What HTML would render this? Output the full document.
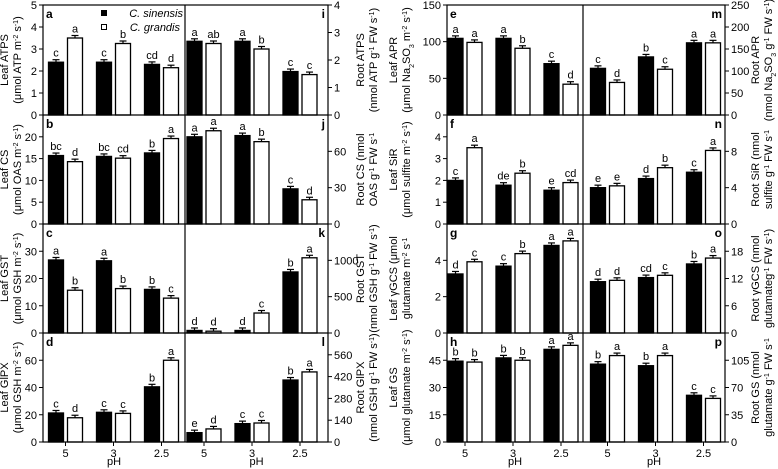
<!DOCTYPE html>
<html><head><meta charset="utf-8"><style>
html,body{margin:0;padding:0;background:#fff;}
svg{display:block;font-family:"Liberation Sans",Arial,sans-serif;}
</style></head><body>
<svg id="fig" width="778" height="469" viewBox="0 0 778 469" xmlns="http://www.w3.org/2000/svg"></svg>
<script>
const categories = ["5","3","2.5"];
// panel values: sinensis (black), grandis (white)
const aS=[2.4,2.4,2.3], aG=[3.5,3.25,2.15], aLS=["c","c","cd"], aLG=["a","b","d"];
const bS=[15.7,15.5,16.3], bG=[14.3,15.1,19.6], bLS=["bc","bc","b"], bLG=["d","cd","a"];
const cS=[26.8,26.5,16.0], cG=[15.7,16.3,12.8], cLS=["a","a","b"], cLG=["b","b","c"];
const dS=[21.3,21.8,40.5], dG=[17.8,21.0,60.0], dLS=["c","c","b"], dLG=["d","c","a"];
const iS=[2.68,2.68,1.58], iG=[2.6,2.4,1.47], iLS=["a","a","c"], iLG=["ab","b","c"];
const jS=[72,73,29], jG=[77,68,20], jLS=["a","a","c"], jLG=["a","b","d"];
const kS=[35,35,840], kG=[25,275,1035], kLS=["d","d","b"], kLG=["d","c","a"];
const lS=[60,118,398], lG=[84,122,450], lLS=["e","c","b"], lLG=["d","c","a"];
const eS=[104.5,104.5,70], eG=[99,91,42], eLS=["a","a","c"], eLG=["a","b","d"];
const fS=[2.0,1.78,1.55], fG=[3.5,2.33,1.9], fLS=["c","de","e"], fLG=["a","b","cd"];
const gS=[3.25,3.68,4.82], gG=[3.92,4.37,5.07], gLS=["d","c","a"], gLG=["c","b","a"];
const hS=[44.5,46.3,51], hG=[44,45,53.2], hLS=["b","b","a"], hLG=["b","b","a"];
const mS=[106,132,164], mG=[74,104,164], mLS=["c","b","a"], mLG=["d","c","a"];
const nS=[4.0,5.0,5.7], nG=[4.2,6.2,8.1], nLS=["e","d","c"], nLG=["e","b","a"];
const oS=[11.3,12.2,15.2], oG=[11.6,12.7,16.5], oLS=["d","cd","b"], oLG=["d","c","a"];
const pS=[100,98,60], pG=[111,111,56], pLS=["b","b","c"], pLG=["a","a","c"];
// tick labels
const ticksA=[0,1,2,3,4,5], ticksB=[0,5,10,15,20], ticksC=[0,10,20,30], ticksD=[0,20,40,60];
const ticksI=[0,1,2,3,4], ticksJ=[0,30,60], ticksK=[0,500,1000], ticksL=[0,140,280,420,560];
const ticksE=[0,50,100,150], ticksF=[0,1,2,3,4], ticksG=[0,2,4], ticksH=[0,15,30,45];
const ticksM=[0,50,100,150,200,250], ticksN=[0,4,8], ticksO=[0,6,12,18], ticksP=[0,35,70,105];

const NS="http://www.w3.org/2000/svg";
const svg=document.getElementById('fig');
function mk(tag,attrs,parent){const e=document.createElementNS(NS,tag);for(const k in attrs)e.setAttribute(k,attrs[k]);(parent||svg).appendChild(e);return e;}

function title(x,y,lines,parent){
  const t=mk('text',{x:0,y:0,'font-size':11,'text-anchor':'middle',transform:`translate(${x},${y}) rotate(-90)`},parent);
  
  
  lines.forEach((segs,li)=>{
    let first=true;
    segs.forEach(s=>{
      const ts=mk('tspan',{},t);
      if(first){ts.setAttribute('x',0);ts.setAttribute('dy',li===0?0:13);first=false;}
      if(s[1]==='sup'){ts.setAttribute('font-size',7);ts.setAttribute('baseline-shift','super');}
      if(s[1]==='sub'){ts.setAttribute('font-size',7);ts.setAttribute('baseline-shift','sub');}
      ts.textContent=s[0];
    });
  });
}
const P=(t)=>[t,''], SUP=(t)=>[t,'sup'], SUB=(t)=>[t,'sub'];

function panel(cfg){
  const g=mk('g',{});
  
  
  const {x0,x1,y0,y1,max,side,off}=cfg;
  const ys=v=>y1-(v/max)*(y1-y0);
  const xc=i=>x0+off+48*i;
  cfg.ticks.forEach(tv=>{
    const y=ys(tv);
    if(side==='left'){
      mk('line',{x1:x0-4,x2:x0,y1:y,y2:y,stroke:'#000','stroke-width':1},g);
      const tx=mk('text',{x:x0-6,y:y+4,'font-size':11,'text-anchor':'end'},g);
      
      
      tx.textContent=tv;
    } else {
      mk('line',{x1:x1,x2:x1+4,y1:y,y2:y,stroke:'#000','stroke-width':1},g);
      const tx=mk('text',{x:x1+6,y:y+4,'font-size':11,'text-anchor':'start'},g);
      
      
      tx.textContent=tv;
    }
  });
  categories.forEach((c,i)=>{
    [[cfg.s,cfg.ls,'#000',-1],[cfg.gr,cfg.lg,'#fff',1]].forEach(([vals,lets,fill,dir])=>{
      const v=vals[i];
      const bx=dir<0?xc(i)-17:xc(i)+2;
      const top=ys(v);
      const r=mk('rect',{x:bx,y:top,width:15,height:y1-top,fill:fill,stroke:'#000','stroke-width':1.3},g);
      
      
      const eh=2.5;
      mk('line',{x1:bx+7.5,x2:bx+7.5,y1:top,y2:top-eh,stroke:'#000','stroke-width':1.2},g);
      mk('line',{x1:bx+4,x2:bx+11,y1:top-eh,y2:top-eh,stroke:'#000','stroke-width':1.2},g);
      const lt=mk('text',{x:bx+7.5,y:top-eh-3,'font-size':11,'text-anchor':'middle'},g);
      
      
      lt.textContent=lets[i];
    });
    if(cfg.bottom){
      mk('line',{x1:xc(i),x2:xc(i),y1:y1,y2:y1+4,stroke:'#000','stroke-width':1},g);
      const xl=mk('text',{x:xc(i),y:y1+15,'font-size':11,'text-anchor':'middle'},g);
      
      
      xl.textContent=c;
    }
  });
  const pl=mk('text',{x:side==='left'?x0+3:x1-3,y:y0+13,'font-size':12,'font-weight':'bold','text-anchor':side==='left'?'start':'end'},g);
  
  
  pl.textContent=cfg.id;
}

const L1=43,M1=185,R1=328,L2=447,M2=583,R2=725;
const rows=[5,115,224,333,442];
const cfgs=[
 {id:'a',x0:L1,x1:M1,y0:rows[0],y1:rows[1],max:5,side:'left',off:22.5,s:aS,gr:aG,ls:aLS,lg:aLG,ticks:ticksA},
 {id:'b',x0:L1,x1:M1,y0:rows[1],y1:rows[2],max:25,side:'left',off:22.5,s:bS,gr:bG,ls:bLS,lg:bLG,ticks:ticksB},
 {id:'c',x0:L1,x1:M1,y0:rows[2],y1:rows[3],max:40,side:'left',off:22.5,s:cS,gr:cG,ls:cLS,lg:cLG,ticks:ticksC},
 {id:'d',x0:L1,x1:M1,y0:rows[3],y1:rows[4],max:80,side:'left',off:22.5,s:dS,gr:dG,ls:dLS,lg:dLG,ticks:ticksD,bottom:true},
 {id:'i',x0:M1,x1:R1,y0:rows[0],y1:rows[1],max:4,side:'right',off:19,s:iS,gr:iG,ls:iLS,lg:iLG,ticks:ticksI},
 {id:'j',x0:M1,x1:R1,y0:rows[1],y1:rows[2],max:90,side:'right',off:19,s:jS,gr:jG,ls:jLS,lg:jLG,ticks:ticksJ},
 {id:'k',x0:M1,x1:R1,y0:rows[2],y1:rows[3],max:1500,side:'right',off:19,s:kS,gr:kG,ls:kLS,lg:kLG,ticks:ticksK},
 {id:'l',x0:M1,x1:R1,y0:rows[3],y1:rows[4],max:700,side:'right',off:19,s:lS,gr:lG,ls:lLS,lg:lLG,ticks:ticksL,bottom:true},
 {id:'e',x0:L2,x1:M2,y0:rows[0],y1:rows[1],max:150,side:'left',off:18,s:eS,gr:eG,ls:eLS,lg:eLG,ticks:ticksE},
 {id:'f',x0:L2,x1:M2,y0:rows[1],y1:rows[2],max:5,side:'left',off:18,s:fS,gr:fG,ls:fLS,lg:fLG,ticks:ticksF},
 {id:'g',x0:L2,x1:M2,y0:rows[2],y1:rows[3],max:6,side:'left',off:18,s:gS,gr:gG,ls:gLS,lg:gLG,ticks:ticksG},
 {id:'h',x0:L2,x1:M2,y0:rows[3],y1:rows[4],max:60,side:'left',off:18,s:hS,gr:hG,ls:hLS,lg:hLG,ticks:ticksH,bottom:true},
 {id:'m',x0:M2,x1:R2,y0:rows[0],y1:rows[1],max:250,side:'right',off:24.5,s:mS,gr:mG,ls:mLS,lg:mLG,ticks:ticksM},
 {id:'n',x0:M2,x1:R2,y0:rows[1],y1:rows[2],max:12,side:'right',off:24.5,s:nS,gr:nG,ls:nLS,lg:nLG,ticks:ticksN},
 {id:'o',x0:M2,x1:R2,y0:rows[2],y1:rows[3],max:24,side:'right',off:24.5,s:oS,gr:oG,ls:oLS,lg:oLG,ticks:ticksO},
 {id:'p',x0:M2,x1:R2,y0:rows[3],y1:rows[4],max:140,side:'right',off:24.5,s:pS,gr:pG,ls:pLS,lg:pLG,ticks:ticksP,bottom:true}
];
cfgs.forEach(panel);

[[L1,M1,R1],[L2,M2,R2]].forEach(([l,m,r])=>{
  const fr=mk('rect',{x:l,y:rows[0],width:r-l,height:rows[4]-rows[0],fill:'none',stroke:'#000','stroke-width':1.2});
  
  
  mk('line',{x1:m,x2:m,y1:rows[0],y2:rows[4],stroke:'#000','stroke-width':1.2});
  for(let k=1;k<4;k++) mk('line',{x1:l,x2:r,y1:rows[k],y2:rows[k],stroke:'#000','stroke-width':1.2});
  [(l+m)/2,(m+r)/2].forEach(cx=>{
    const t=mk('text',{x:cx,y:465,'font-size':11,'text-anchor':'middle'});
    
    
    t.textContent='pH';
  });
});

const lg=mk('g',{});


mk('rect',{x:101,y:10,width:6,height:6,fill:'#000'},lg);
mk('rect',{x:101.5,y:24.5,width:5,height:5,fill:'#fff',stroke:'#000','stroke-width':1},lg);
const l1=mk('text',{x:183,y:17,'font-size':11,'font-style':'italic','text-anchor':'end'},lg);


l1.textContent='C. sinensis';
const l2=mk('text',{x:180,y:31,'font-size':11,'font-style':'italic','text-anchor':'end'},lg);


l2.textContent='C. grandis';

const mid=k=>(rows[k]+rows[k+1])/2;
const m2=[P(' m'),SUP('-2'),P(' s'),SUP('-1'),P(')')];
const gfw=[P(' g'),SUP('-1'),P(' FW s'),SUP('-1'),P(')')];
title(8,mid(0),[[P('Leaf ATPS')],[P('(μmol ATP'),...m2]]);
title(8,mid(1),[[P('Leaf CS')],[P('(μmol OAS'),...m2]]);
title(8,mid(2),[[P('Leaf GST')],[P('(μmol GSH'),...m2]]);
title(8,mid(3),[[P('Leaf GlPX')],[P('(μmol GSH'),...m2]]);
title(364,mid(0),[[P('Root ATPS')],[P('(nmol ATP'),...gfw]]);
title(364,mid(1),[[P('Root CS (nmol')],[P('OAS'),...gfw.slice(0,4)]]);
title(364,mid(2),[[P('Root GST')],[P('(nmol GSH'),...gfw]]);
title(364,mid(3),[[P('Root GlPX')],[P('(nmol GSH'),...gfw]]);
title(397,mid(0),[[P('Leaf APR')],[P('(μmol Na'),SUB('2'),P('SO'),SUB('3'),...m2]]);
title(397,mid(1),[[P('Leaf SiR')],[P('(μmol sulfite'),...m2]]);
title(397,mid(2),[[P('Leaf γGCS (μmol')],[P('glutamate'),...m2.slice(0,4)]]);
title(397,mid(3),[[P('Leaf GS')],[P('(μmol glutamate'),...m2]]);
title(759,mid(0),[[P('Root APR')],[P('(nmol Na'),SUB('2'),P('SO'),SUB('3'),...gfw]]);
title(759,mid(1),[[P('Root SiR (nmol')],[P('sulfite'),...gfw.slice(0,4)]]);
title(759,mid(2),[[P('Root γGCS (nmol')],[P('glutamateg'),SUP('-1'),P(' FW s'),SUP('-1'),P(')')]]);
title(759,mid(3),[[P('Root GS (nmol')],[P('glutamate'),...gfw.slice(0,4)]]);
</script>
</body></html>
